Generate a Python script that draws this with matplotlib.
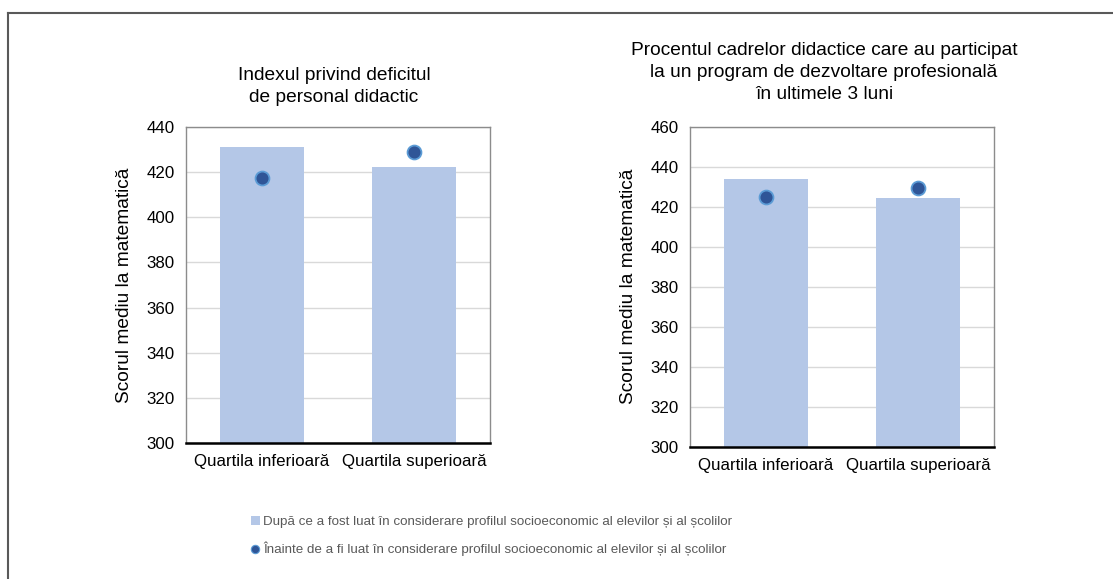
import matplotlib
matplotlib.use("Agg")
import matplotlib.pyplot as plt
from matplotlib.lines import Line2D
from matplotlib.patches import Patch

plt.rcParams["font.family"] = ["Liberation Sans", "DejaVu Sans"]

categories = ["Quartila inferioară", "Quartila superioară"]

title_left = "Indexul privind deficitul\nde personal didactic"
after_left = [431.3, 422.4]
before_left = [417.5, 428.8]
yticks_left = [300, 320, 340, 360, 380, 400, 420, 440]

title_right = ("Procentul cadrelor didactice care au participat\n"
               "la un program de dezvoltare profesională\n"
               "în ultimele 3 luni")
after_right = [433.8, 424.2]
before_right = [425.0, 429.2]
yticks_right = [300, 320, 340, 360, 380, 400, 420, 440, 460]

ylabel = "Scorul mediu la matematică"
legend_after = "După ce a fost luat în considerare profilul socioeconomic al elevilor și al școlilor"
legend_before = "Înainte de a fi luat în considerare profilul socioeconomic al elevilor și al școlilor"

BAR = "#B4C7E7"
DOT = "#2F5597"
DOT_EDGE = "#5B9BD5"
GRID = "#D9D9D9"

W, H = 1113, 579
fig = plt.figure(figsize=(W / 100, H / 100), dpi=100)

# outer frame: top and left edges only
fig.add_artist(Line2D([8 / W, 1.0], [1 - 13 / H, 1 - 13 / H],
                      transform=fig.transFigure, color="#595959", lw=1.5))
fig.add_artist(Line2D([8 / W, 8 / W], [0.0, 1 - 13 / H],
                      transform=fig.transFigure, color="#595959", lw=1.5))


def panel(rect, after, before, yticks, title, title_x, title_y):
    ax = fig.add_axes(rect)
    x = range(len(categories))
    ax.bar(x, [v - yticks[0] for v in after], bottom=yticks[0], width=0.55,
           color=BAR, zorder=2)
    ax.plot(x, before, linestyle="none", marker="o", markersize=10,
            markerfacecolor=DOT, markeredgecolor=DOT_EDGE, markeredgewidth=1.3,
            zorder=3)
    ax.set_xlim(-0.5, 1.5)
    ax.set_ylim(yticks[0], yticks[-1])
    ax.set_yticks(yticks)
    ax.set_xticks(list(x))
    ax.set_xticklabels(categories)
    ax.tick_params(axis="both", length=0, labelsize=12.2, colors="#000000")
    ax.tick_params(axis="x", pad=8)
    ax.tick_params(axis="y", pad=8)
    ax.yaxis.grid(True, color=GRID, lw=1, zorder=0)
    ax.set_axisbelow(True)
    for s in ("left", "top", "right"):
        ax.spines[s].set_color("#8C8C8C")
        ax.spines[s].set_linewidth(1.0)
    ax.spines["bottom"].set_color("#000000")
    ax.spines["bottom"].set_linewidth(1.8)
    ax.set_ylabel(ylabel, fontsize=13.8, labelpad=10)
    fig.text(title_x / W, 1 - title_y / H, title, ha="center", va="top",
             fontsize=13.8, linespacing=1.4)
    return ax


panel([186 / W, 1 - 443 / H, 304 / W, 316 / H],
      after_left, before_left, yticks_left, title_left, 334, 67)
panel([690 / W, 1 - 446.7 / H, 304 / W, 320 / H],
      after_right, before_right, yticks_right, title_right, 824, 42)

handles = [
    Patch(facecolor=BAR, edgecolor="none"),
    Line2D([], [], linestyle="none", marker="o", markersize=6,
           markerfacecolor=DOT, markeredgecolor=DOT_EDGE, markeredgewidth=0.8),
]
leg = fig.legend(handles, [legend_after, legend_before], loc="upper left",
                 bbox_to_anchor=(244 / W, 1 - 509 / H), frameon=False,
                 fontsize=9.6, handlelength=0.7, handleheight=0.7,
                 handletextpad=0.25, labelspacing=1.05, borderpad=0)
for t in leg.get_texts():
    t.set_color("#595959")

fig.savefig("out.png", dpi=100, facecolor="white")
